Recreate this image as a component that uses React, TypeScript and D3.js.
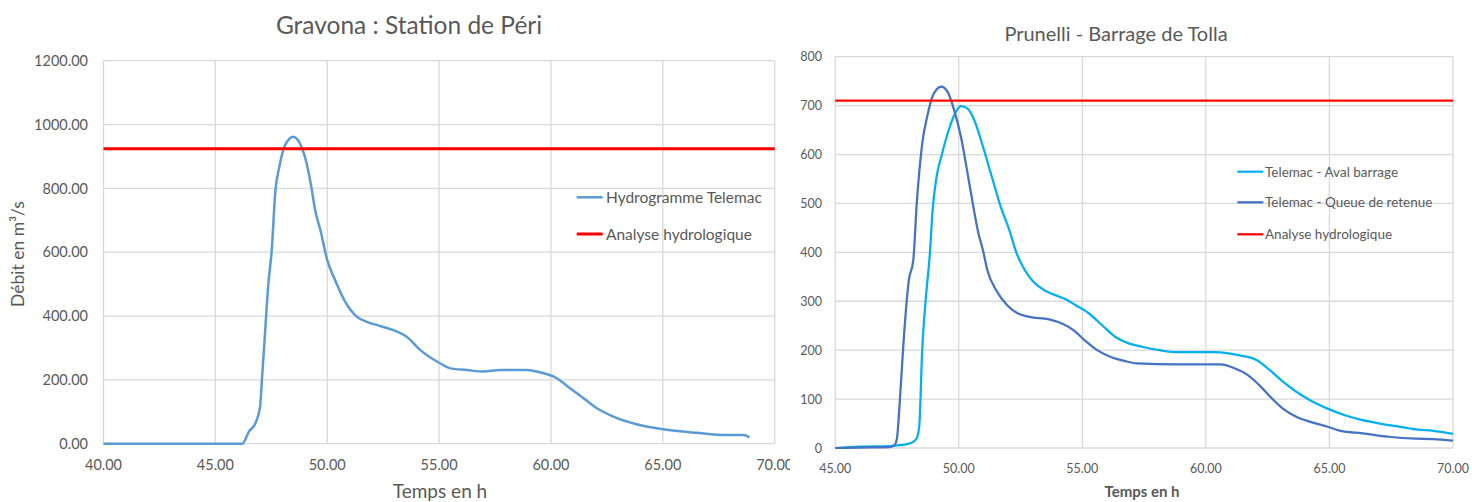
import React from "react";
import * as d3 from "d3";

// ---------- Gravona : Station de Péri ----------
const gravonaTime = [40, 46.2, 46.5, 46.8, 47.0, 47.07, 47.2, 47.37, 47.52, 47.68, 47.86, 48.08, 48.3, 48.46, 48.6, 48.74, 49.08, 49.3, 49.45, 49.7, 50.0, 50.35, 50.8, 51.32, 51.77, 52.4, 52.95, 53.55, 54.15, 55.04, 55.5, 56.24, 56.98, 57.72, 58.92, 59.36, 60.26, 60.85, 61.5, 62.05, 62.79, 63.83, 65.02, 66.5, 67.86, 68.6, 68.87];
const gravonaFlow = [0, 0, 38, 66, 116, 189, 325, 502, 607, 790, 868, 930, 955, 962, 958, 946, 878, 800, 735, 668, 575, 513, 445, 398, 382, 368, 356, 335, 294, 252, 236, 231, 226, 231, 231, 226, 205, 174, 140, 111, 85, 61, 45, 34, 27, 27, 20];
const gravonaThreshold = 924;
const gravonaXTicks = [40, 45, 50, 55, 60, 65, 70];
const gravonaYTicks = [0, 200, 400, 600, 800, 1000, 1200];

// ---------- Prunelli - Barrage de Tolla ----------
const avalTime = [45, 46, 47.2, 47.6, 47.9, 48.1, 48.3, 48.4, 48.52, 48.66, 48.84, 48.93, 49.1, 49.29, 49.55, 49.82, 50.09, 50.36, 50.63, 50.98, 51.34, 51.7, 52.05, 52.3, 52.68, 53.04, 53.48, 53.93, 54.29, 54.73, 55.27, 55.8, 56.34, 56.88, 57.41, 58.13, 58.84, 60.27, 60.98, 61.52, 62.05, 62.59, 63.13, 63.66, 64.2, 64.9, 65.63, 66.34, 67.05, 67.77, 68.5, 69.2, 70];
const avalFlow = [0, 3, 4, 6, 8, 11, 20, 44, 200, 302, 404, 479, 554, 595, 643, 681, 699, 694, 670, 616, 554, 493, 445, 404, 363, 339, 322, 312, 305, 292, 275, 251, 227, 214, 207, 200, 196, 196, 193, 188, 180, 159, 135, 115, 98, 81, 67, 57, 50, 44, 38, 35, 29];
const queueTime = [45, 46, 47.2, 47.4, 47.5, 47.6, 47.77, 47.98, 48.16, 48.3, 48.52, 48.75, 48.93, 49.1, 49.29, 49.55, 49.77, 50.09, 50.45, 50.8, 50.98, 51.16, 51.52, 51.96, 52.4, 52.86, 53.66, 54.2, 54.64, 55.1, 55.6, 56.16, 56.7, 57.2, 58.84, 60.6, 61.16, 61.7, 62.23, 62.6, 63.1, 63.66, 64.2, 64.9, 65.45, 66.34, 67.4, 68.5, 69.2, 70];
const queueFlow = [0, 1, 2, 6, 20, 84, 220, 343, 384, 500, 622, 684, 718, 733, 739, 728, 698, 636, 534, 438, 404, 363, 322, 292, 275, 268, 263, 254, 241, 220, 200, 186, 178, 173, 171, 171, 163, 149, 125, 105, 81, 64, 54, 44, 35, 30, 23, 19, 18, 15];
const tollaThreshold = 710;
const tollaXTicks = [45, 50, 55, 60, 65, 70];
const tollaYTicks = [0, 100, 200, 300, 400, 500, 600, 700, 800];

const FONT = "Lato, 'Open Sans', sans-serif";
const TXT = "#595959";
const GRID = "#D9D9D9";

function zip(t: number[], v: number[]) {
  return t.map((x, i) => [x, v[i]] as [number, number]);
}

export default function App() {
  // Left chart scales
  const xL = d3.scaleLinear().domain([40, 70]).range([103.5, 774.7]);
  const yL = d3.scaleLinear().domain([0, 1200]).range([443.7, 60.7]);
  const lineL = d3
    .line<[number, number]>()
    .x((d) => xL(d[0]))
    .y((d) => yL(d[1]))
    .curve(d3.curveMonotoneX);

  // Right chart scales
  const xR = d3.scaleLinear().domain([45, 70]).range([835.2, 1453]);
  const yR = d3.scaleLinear().domain([0, 800]).range([448, 56.7]);
  const lineR = d3
    .line<[number, number]>()
    .x((d) => xR(d[0]))
    .y((d) => yR(d[1]))
    .curve(d3.curveMonotoneX);

  const fmt2 = d3.format(".2f");

  return (
    <svg
      width={1472}
      height={502}
      style={{ position: "absolute", left: 0, top: 0, background: "#fff" }}
      fontFamily={FONT}
    >
      <defs>
        <clipPath id="leftClip">
          <rect x={0} y={0} width={790} height={502} />
        </clipPath>
      </defs>
      <rect x={0} y={0} width={1472} height={502} fill="#fff" />

      {/* ================= LEFT CHART ================= */}
      <g clipPath="url(#leftClip)">
        {gravonaYTicks.map((t) => (
          <line key={"gy" + t} x1={xL(40)} x2={xL(70)} y1={yL(t)} y2={yL(t)} stroke={GRID} strokeWidth={1.3} />
        ))}
        {gravonaXTicks.map((t) => (
          <line key={"gx" + t} x1={xL(t)} x2={xL(t)} y1={yL(0)} y2={yL(1200)} stroke={GRID} strokeWidth={1.3} />
        ))}
        {gravonaYTicks.map((t) => (
          <text key={"gyl" + t} x={88} y={yL(t)} dy="0.36em" textAnchor="end" fontSize={14.5} fill={TXT}>
            {fmt2(t)}
          </text>
        ))}
        {gravonaXTicks.map((t) => (
          <text key={"gxl" + t} x={xL(t)} y={470} textAnchor="middle" fontSize={14.5} fill={TXT}>
            {fmt2(t)}
          </text>
        ))}
        <path d={lineL(zip(gravonaTime, gravonaFlow)) || ""} fill="none" stroke="#5B9BD5" strokeWidth={2.5} strokeLinejoin="round" />
        <line x1={xL(40)} x2={xL(70)} y1={yL(gravonaThreshold)} y2={yL(gravonaThreshold)} stroke="#FF0000" strokeWidth={3} />

        <text x={409} y={34} textAnchor="middle" fontSize={24.5} fill={TXT}>
          Gravona : Station de Péri
        </text>
        <text transform={`translate(24,254) rotate(-90)`} textAnchor="middle" fontSize={17.5} fill={TXT}>
          Débit en m³/s
        </text>
        <text x={440} y={498} textAnchor="middle" fontSize={19} fill={TXT}>
          Temps en h
        </text>

        {/* legend */}
        <line x1={576.7} x2={602.7} y1={197.3} y2={197.3} stroke="#5B9BD5" strokeWidth={2.5} />
        <text x={606} y={197.3} dy="0.36em" fontSize={15.5} fill={TXT}>
          Hydrogramme Telemac
        </text>
        <line x1={576.7} x2={602.7} y1={234} y2={234} stroke="#FF0000" strokeWidth={3} />
        <text x={606} y={234} dy="0.36em" fontSize={15.5} fill={TXT}>
          Analyse hydrologique
        </text>
      </g>

      {/* ================= RIGHT CHART ================= */}
      <g>
        {tollaYTicks.map((t) => (
          <line key={"ty" + t} x1={xR(45)} x2={xR(70)} y1={yR(t)} y2={yR(t)} stroke={GRID} strokeWidth={1.3} />
        ))}
        {tollaXTicks.map((t) => (
          <line key={"tx" + t} x1={xR(t)} x2={xR(t)} y1={yR(0)} y2={yR(800)} stroke={GRID} strokeWidth={1.3} />
        ))}
        {tollaYTicks.map((t) => (
          <text key={"tyl" + t} x={822} y={yR(t)} dy="0.36em" textAnchor="end" fontSize={12.5} fill={TXT}>
            {t}
          </text>
        ))}
        {tollaXTicks.map((t) => (
          <text key={"txl" + t} x={xR(t)} y={473} textAnchor="middle" fontSize={12.5} fill={TXT}>
            {fmt2(t)}
          </text>
        ))}
        <path d={lineR(zip(avalTime, avalFlow)) || ""} fill="none" stroke="#00B0F0" strokeWidth={2.25} strokeLinejoin="round" />
        <path d={lineR(zip(queueTime, queueFlow)) || ""} fill="none" stroke="#4472C4" strokeWidth={2.25} strokeLinejoin="round" />
        <line x1={xR(45)} x2={xR(70)} y1={yR(tollaThreshold)} y2={yR(tollaThreshold)} stroke="#FF0000" strokeWidth={2.25} />

        <text x={1116} y={41} textAnchor="middle" fontSize={20} fill={TXT}>
          Prunelli - Barrage de Tolla
        </text>
        <text x={1142} y={497} textAnchor="middle" fontSize={15} fontWeight="bold" fill={TXT}>
          Temps en h
        </text>

        {/* legend */}
        <line x1={1237.3} x2={1263.3} y1={171.7} y2={171.7} stroke="#00B0F0" strokeWidth={2.25} />
        <text x={1265} y={171.7} dy="0.36em" fontSize={13.5} fill={TXT}>
          Telemac - Aval barrage
        </text>
        <line x1={1237.3} x2={1263.3} y1={202.3} y2={202.3} stroke="#4472C4" strokeWidth={2.25} />
        <text x={1265} y={202.3} dy="0.36em" fontSize={13.5} fill={TXT}>
          Telemac - Queue de retenue
        </text>
        <line x1={1237.3} x2={1263.3} y1={234.3} y2={234.3} stroke="#FF0000" strokeWidth={2.25} />
        <text x={1265} y={234.3} dy="0.36em" fontSize={13.5} fill={TXT}>
          Analyse hydrologique
        </text>
      </g>
    </svg>
  );
}
